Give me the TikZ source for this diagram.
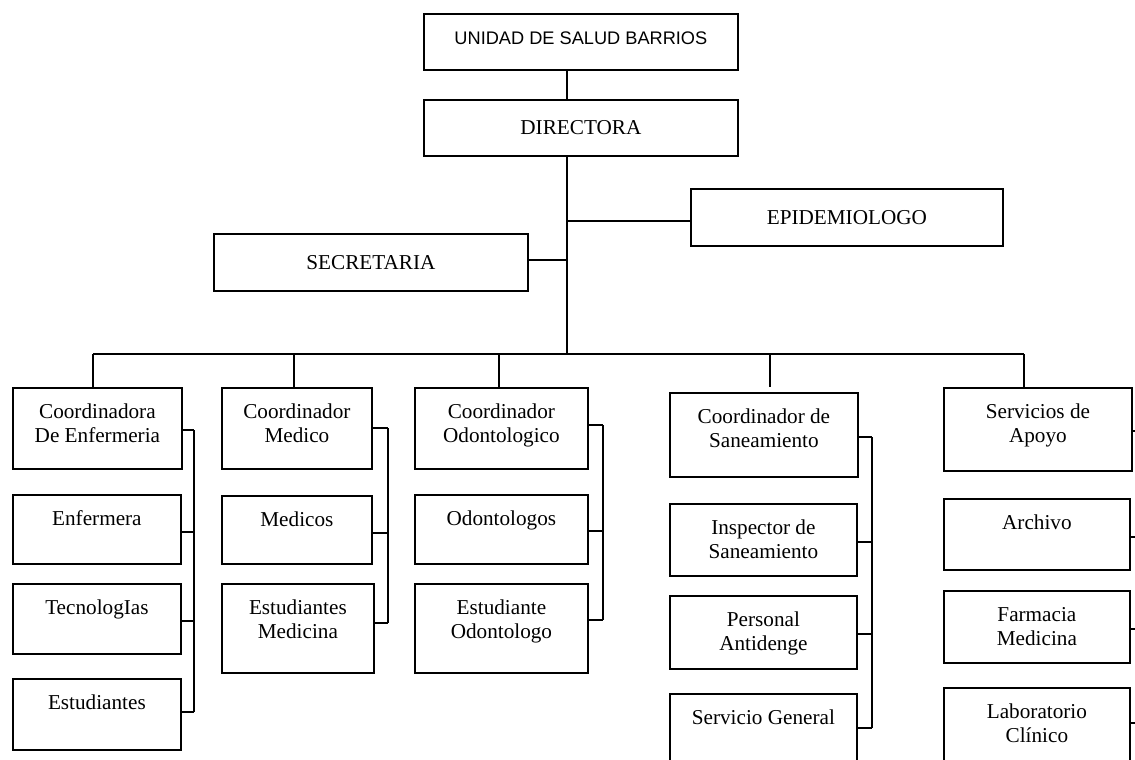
\documentclass[tikz,border=0pt]{standalone}
\usepackage{fontspec}
\setmainfont{Liberation Serif}
\newfontfamily\arialfont{Liberation Sans}

% A box whose text starts at the top: name, x, y, width, height (in px), text
\newcommand{\orgbox}[6]{%
  \node[stackbox] (#1) at (#2,#3)
    {\parbox[t][\dimexpr #5pt/2\relax][t]{\dimexpr #4pt/2\relax}{\centering\rule{0pt}{15.2pt}#6}};}

\begin{document}
\begin{tikzpicture}[x=0.5pt,y=-0.5pt,
  stackbox/.style={draw, line width=0.9pt, inner sep=0pt, anchor=north west,
    font=\fontsize{10.6}{12.25}\selectfont},
  headbox/.style={draw, line width=0.9pt, inner sep=0pt, anchor=north west,
    font=\fontsize{10.6}{12.25}\selectfont},
  wire/.style={line width=0.9pt}]
\useasboundingbox (0,0) rectangle (1135,760);
\clip (0,0) rectangle (1135,760);

% head of the unit
\node[headbox, minimum width=157pt, minimum height=28pt, text height=6.6pt, text depth=4pt,
  font=\arialfont\fontsize{9.1}{11}\selectfont]
  (unidad) at (423,13) {UNIDAD DE SALUD BARRIOS};
\node[headbox, minimum width=157pt, minimum height=28pt] (directora) at (423,99) {DIRECTORA};
\node[headbox, minimum width=156pt, minimum height=28.5pt] (epi) at (690,188) {EPIDEMIOLOGO};
\node[headbox, minimum width=157pt, minimum height=28.5pt] (sec) at (213,233) {SECRETARIA};

% trunk and its joints
\coordinate (trunk) at (567,354);
\coordinate (jepi) at (567,221);
\coordinate (jsec) at (567,260);
\draw[wire] (unidad.south -| trunk) -- (directora.north -| trunk);
\draw[wire] (directora.south -| trunk) -- (trunk);
\draw[wire] (jepi) -- (epi.west |- jepi);
\draw[wire] (sec.east |- jsec) -- (jsec);

% column 1: nursing
\orgbox{cde}{12}{387}{169}{81}{Coordinadora\\De Enfermeria}
\orgbox{enf}{12}{494}{168}{69}{Enfermera}
\orgbox{tec}{12}{583}{168}{70}{TecnologIas}
\orgbox{est}{12}{678}{168}{71}{Estudiantes}

% column 2: medicine
\orgbox{cme}{221}{387}{150}{81}{Coordinador\\Medico}
\orgbox{med}{221}{495}{150}{68}{Medicos}
\orgbox{esm}{221}{583}{152}{89}{Estudiantes\\Medicina}

% column 3: dentistry
\orgbox{cod}{414}{387}{173}{81}{Coordinador\\Odontologico}
\orgbox{odo}{414}{494}{173}{69}{Odontologos}
\orgbox{eso}{414}{583}{173}{89}{Estudiante\\Odontologo}

% column 4: sanitation
\orgbox{csa}{669}{392}{188}{84}{Coordinador de\\Saneamiento}
\orgbox{ins}{669}{503}{187}{72}{Inspector de\\Saneamiento}
\orgbox{per}{669}{595}{187}{73}{Personal\\Antidenge}
\orgbox{sge}{669}{693}{187}{90}{Servicio General}

% column 5: support services
\orgbox{sap}{943}{387}{188}{83}{Servicios de\\Apoyo}
\orgbox{arc}{943}{498}{186}{71}{Archivo}
\orgbox{far}{943}{590}{186}{72}{Farmacia\\Medicina}
\orgbox{lab}{943}{687}{186}{95}{Laboratorio\\Clínico}

% bus to the five heads of area
\coordinate (b1) at (93,354);
\coordinate (b2) at (294,354);
\coordinate (b3) at (499,354);
\coordinate (b4) at (770,354);
\coordinate (b5) at (1024,354);
\draw[wire] (b1) -- (b5);
\draw[wire] (b1) -- (b1 |- cde.north);
\draw[wire] (b2) -- (b2 |- cme.north);
\draw[wire] (b3) -- (b3 |- cod.north);
\draw[wire, shorten >=2.5pt] (b4) -- (b4 |- csa.north);
\draw[wire] (b5) -- (b5 |- sap.north);

% side spines joining each column
\foreach \n/\y in {cde/430, enf/532, tec/621, est/712}{
  \coordinate (j-\n) at (194,\y);
  \draw[wire] (\n.east |- j-\n) -- (j-\n);}
\draw[wire] (j-cde) -- (j-est);

\foreach \n/\y in {cme/428, med/533, esm/623}{
  \coordinate (j-\n) at (388,\y);
  \draw[wire] (\n.east |- j-\n) -- (j-\n);}
\draw[wire] (j-cme) -- (j-esm);

\foreach \n/\y in {cod/425, odo/531, eso/620}{
  \coordinate (j-\n) at (603,\y);
  \draw[wire] (\n.east |- j-\n) -- (j-\n);}
\draw[wire] (j-cod) -- (j-eso);

\foreach \n/\y in {csa/437, ins/542, per/634, sge/728}{
  \coordinate (j-\n) at (872,\y);
  \draw[wire] (\n.east |- j-\n) -- (j-\n);}
\draw[wire] (j-csa) -- (j-sge);

\foreach \n/\y in {sap/431, arc/537, far/629, lab/723}{
  \coordinate (j-\n) at (1142,\y);
  \draw[wire] (\n.east |- j-\n) -- (j-\n);}
\draw[wire] (j-sap) -- (j-lab);
\end{tikzpicture}
\end{document}
